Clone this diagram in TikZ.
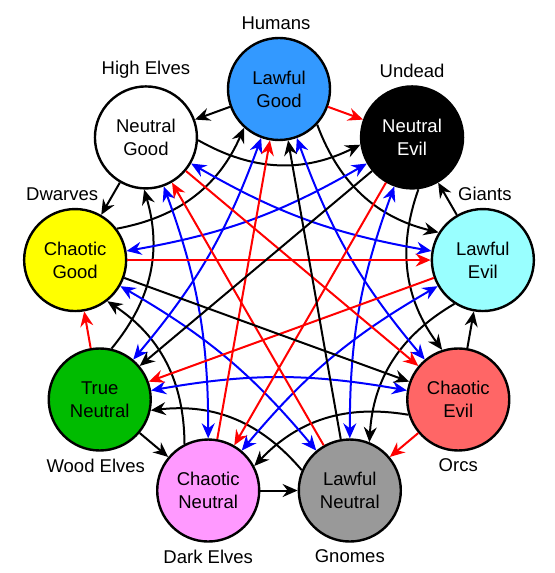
\documentclass[tikz,border=0pt]{standalone}
\usepackage{fontspec}
\setmainfont{Liberation Sans}
\usetikzlibrary{arrows.meta}
\definecolor{LGood}{HTML}{3399FF}
\definecolor{LEvil}{HTML}{99FFFF}
\definecolor{CEvil}{HTML}{FF6666}
\definecolor{LNeut}{HTML}{999999}
\definecolor{CNeut}{HTML}{FF99FF}
\definecolor{TNeut}{HTML}{00BB00}
\definecolor{CGood}{HTML}{FFFF00}
\begin{document}
\begin{tikzpicture}[x=1pt,y=1pt,
    al/.style={circle,draw,line width=1.2pt,minimum size=51pt,inner sep=0pt,align=center,font=\fontsize{9.25}{11.5}\selectfont},
    race/.style={font=\fontsize{9.25}{11.5}\selectfont},
    bk/.style={-{Stealth[length=7.5pt,width=6.5pt,inset=2.5pt]},line width=1pt},
    rd/.style={bk,red},
    bl/.style={{Stealth[length=7.5pt,width=6.5pt,inset=2.5pt]}-{Stealth[length=7.5pt,width=6.5pt,inset=2.5pt]},line width=1pt,blue}]
    \path[use as bounding box] (0,0) rectangle (277,286.5);
    \begin{scope}[shift={(139.5,138.5)}]
    \node[al,fill=LGood,label={[race,xshift=-1.5pt]above:Humans}] (lg) at (90:103.5pt) {Lawful\\Good};
    \node[al,fill=black,text=white,label={[race]above:Undead}] (ne) at (50:103.5pt) {Neutral\\Evil};
    \node[al,fill=LEvil,label={[race,xshift=1pt]above:Giants}] (le) at (10:103.5pt) {Lawful\\Evil};
    \node[al,fill=CEvil,label={[race]below:Orcs}] (ce) at (-30:103.5pt) {Chaotic\\Evil};
    \node[al,fill=LNeut,label={[race]below:Gnomes}] (ln) at (-70:103.5pt) {Lawful\\Neutral};
    \node[al,fill=CNeut,label={[race]below:Dark Elves}] (cn) at (-110:103.5pt) {Chaotic\\Neutral};
    \node[al,fill=TNeut,label={[race,xshift=-2pt]below:Wood Elves}] (tn) at (-150:103.5pt) {True\\Neutral};
    \node[al,fill=CGood,label={[race,xshift=-6.5pt]above:Dwarves}] (cg) at (170:103.5pt) {Chaotic\\Good};
    \node[al,fill=white,label={[race]above:High Elves}] (ng) at (130:103.5pt) {Neutral\\Good};
    \end{scope}
    % neighbours on the ring
    \draw[rd] (lg) -- (ne);
    \draw[rd] (ce) -- (ln);
    \draw[rd] (tn) -- (cg);
    \draw[bk] (lg) -- (ng);
    \draw[bk] (ng) -- (cg);
    \draw[bk] (tn) -- (cn);
    \draw[bk] (cn) -- (ln);
    \draw[bk] (ce) -- (le);
    \draw[bk] (le) -- (ne);
    % two steps round
    \draw[bk] (lg.-43) to[bend right=28] (le.148);
    \draw[bk] (ne.-83) to[bend right=28] (ce.108);
    \draw[bk] (le.-123) to[bend right=28] (ln.68);
    \draw[bk] (ce.-163) to[bend right=28] (cn.28);
    \draw[bk] (ln.157) to[bend right=28] (tn.-12);
    \draw[bk] (cn.117) to[bend right=28] (cg.-52);
    \draw[bk] (tn.77) to[bend right=28] (ng.-92);
    \draw[bk] (cg.37) to[bend right=28] (lg.228);
    \draw[bk] (ng.-3) to[bend right=28] (ne.188);
    % three steps round, both ways
    \draw[bl] (lg) to[bend right=10] (ce);
    \draw[bl] (ce) to[bend right=10] (tn);
    \draw[bl] (tn) to[bend right=10] (lg);
    \draw[bl] (ne) to[bend right=10] (ln);
    \draw[bl] (ln) to[bend right=10] (cg);
    \draw[bl] (cg) to[bend right=10] (ne);
    \draw[bl] (le) to[bend right=10] (cn);
    \draw[bl] (cn) to[bend right=10] (ng);
    \draw[bl] (ng) to[bend right=10] (le);
    % across
    \draw[rd] (ne) -- (cn);
    \draw[rd] (le) -- (tn);
    \draw[rd] (ln) -- (ng);
    \draw[rd] (cn) -- (lg);
    \draw[rd] (cg) -- (le);
    \draw[rd] (ng) -- (ce);
    \draw[bk] (ne) -- (tn);
    \draw[bk] (ln) -- (lg);
    \draw[bk] (cg) -- (ce);
\end{tikzpicture}
\end{document}
